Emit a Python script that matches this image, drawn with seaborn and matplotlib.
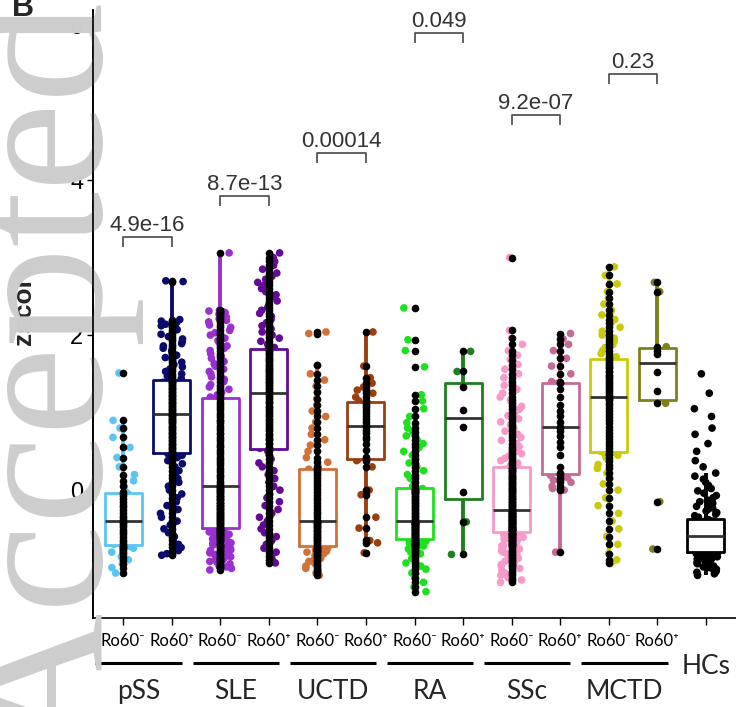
import numpy as np
import pandas as pd
import matplotlib
matplotlib.use("Agg")
import matplotlib.pyplot as plt
import seaborn as sns
from matplotlib.lines import Line2D

# ---------------- data ----------------
groups = ["pSS Ro60-", "pSS Ro60+", "SLE Ro60-", "SLE Ro60+", "UCTD Ro60-", "UCTD Ro60+",
          "RA Ro60-", "RA Ro60+", "SSc Ro60-", "SSc Ro60+", "MCTD Ro60-", "MCTD Ro60+", "HCs"]
tick_labels = ["Ro60\u207b", "Ro60\u207a"] * 6 + [""]
disease_names = ["pSS", "SLE", "UCTD", "RA", "SSc", "MCTD"]
p_values = ["4.9e-16", "8.7e-13", "0.00014", "0.049", "9.2e-07", "0.23"]
bracket_heights = [3.26, 3.79, 4.35, 5.90, 4.84, 5.37]
colors = ["#5BC5F2", "#0B0B6B", "#9B30D0", "#650A96", "#D2703A", "#9A3F10",
          "#1EE01E", "#1F7F1F", "#F79AC9", "#C46C97", "#CACA0A", "#80801A", "#000000"]

pss_neg = [-1.07, -1.0, -0.95, -0.9, -0.86, -0.82, -0.8, -0.77, -0.75, -0.73, -0.72,
           -0.7, -0.67, -0.64, -0.6, -0.57, -0.54, -0.51, -0.48, -0.45, -0.43, -0.41,
           -0.39, -0.36, -0.33, -0.3, -0.26, -0.22, -0.19, -0.15, -0.11, -0.08, -0.05,
           -0.02, 0.05, 0.12, 0.2, 0.3, 0.42, 0.55, 0.68, 0.8, 0.9, 1.51]
pss_pos = [-0.84, -0.82, -0.78, -0.74, -0.7, -0.65, -0.6, -0.55, -0.5, -0.45,
           -0.4, -0.35, -0.3, -0.25, -0.2, -0.15, -0.1, -0.05, 0.0, 0.05,
           0.1, 0.15, 0.2, 0.25, 0.3, 0.34, 0.38, 0.42, 0.45, 0.47,
           0.49, 0.51, 0.53, 0.54, 0.56, 0.58, 0.6, 0.61, 0.63, 0.65,
           0.67, 0.68, 0.7, 0.72, 0.74, 0.75, 0.77, 0.79, 0.81, 0.82,
           0.84, 0.86, 0.88, 0.89, 0.91, 0.92, 0.93, 0.95, 0.96, 0.97,
           0.99, 1.0, 1.02, 1.03, 1.05, 1.06, 1.08, 1.09, 1.11, 1.12,
           1.14, 1.15, 1.17, 1.18, 1.2, 1.21, 1.23, 1.24, 1.26, 1.27,
           1.29, 1.3, 1.32, 1.33, 1.35, 1.36, 1.38, 1.39, 1.4, 1.41,
           1.44, 1.47, 1.5, 1.53, 1.56, 1.59, 1.62, 1.65, 1.68, 1.71,
           1.74, 1.77, 1.8, 1.83, 1.86, 1.89, 1.92, 1.95, 1.98, 2.01,
           2.04, 2.07, 2.1, 2.12, 2.14, 2.16, 2.18, 2.2, 2.69, 2.70]
sle_neg = [-1.03, -1.01, -0.99, -0.98, -0.96, -0.95, -0.93, -0.92, -0.9, -0.89,
           -0.87, -0.86, -0.84, -0.83, -0.81, -0.8, -0.78, -0.77, -0.75, -0.74,
           -0.72, -0.71, -0.69, -0.68, -0.66, -0.65, -0.63, -0.62, -0.6, -0.59,
           -0.58, -0.57, -0.56, -0.55, -0.54, -0.53, -0.52, -0.51, -0.5, -0.5,
           -0.48, -0.47, -0.45, -0.44, -0.43, -0.41, -0.4, -0.39, -0.37, -0.36,
           -0.35, -0.33, -0.32, -0.31, -0.29, -0.28, -0.27, -0.25, -0.24, -0.23,
           -0.21, -0.2, -0.19, -0.17, -0.16, -0.15, -0.13, -0.12, -0.11, -0.09,
           -0.08, -0.07, -0.05, -0.04, -0.03, -0.01, 0.0, 0.01, 0.03, 0.04,
           0.06, 0.09, 0.12, 0.15, 0.18, 0.2, 0.23, 0.26, 0.29, 0.32,
           0.35, 0.38, 0.4, 0.43, 0.46, 0.49, 0.52, 0.55, 0.57, 0.6,
           0.63, 0.66, 0.69, 0.72, 0.74, 0.77, 0.8, 0.83, 0.86, 0.89,
           0.91, 0.94, 0.97, 1.0, 1.03, 1.06, 1.08, 1.11, 1.14, 1.18,
           1.2, 1.23, 1.26, 1.3, 1.33, 1.36, 1.4, 1.43, 1.46, 1.5,
           1.53, 1.56, 1.6, 1.63, 1.66, 1.7, 1.73, 1.76, 1.8, 1.83,
           1.86, 1.9, 1.93, 1.96, 2.0, 2.03, 2.06, 2.1, 2.13, 2.17,
           2.19, 2.21, 2.23, 2.25, 2.27, 2.29, 2.3, 2.31, 2.32, 3.06]
sle_pos = [-0.94, -0.9, -0.85, -0.8, -0.75, -0.7, -0.65, -0.6, -0.55, -0.5,
           -0.45, -0.4, -0.35, -0.3, -0.25, -0.2, -0.15, -0.1, -0.05, 0.0,
           0.05, 0.1, 0.15, 0.2, 0.25, 0.3, 0.35, 0.4, 0.45, 0.5,
           0.54, 0.56, 0.59, 0.61, 0.64, 0.66, 0.68, 0.71, 0.73, 0.76,
           0.78, 0.8, 0.83, 0.85, 0.88, 0.9, 0.92, 0.95, 0.97, 1.0,
           1.02, 1.04, 1.07, 1.09, 1.12, 1.14, 1.16, 1.19, 1.21, 1.24,
           1.26, 1.28, 1.3, 1.32, 1.34, 1.36, 1.38, 1.39, 1.41, 1.43,
           1.45, 1.47, 1.49, 1.51, 1.53, 1.54, 1.56, 1.58, 1.6, 1.62,
           1.64, 1.66, 1.68, 1.69, 1.71, 1.73, 1.75, 1.77, 1.79, 1.81,
           1.84, 1.88, 1.92, 1.96, 2.0, 2.04, 2.08, 2.12, 2.16, 2.2,
           2.24, 2.28, 2.32, 2.36, 2.4, 2.44, 2.48, 2.52, 2.56, 2.6,
           2.64, 2.68, 2.72, 2.76, 2.8, 2.85, 2.9, 2.95, 3.0, 3.06]
uctd_neg = [-1.1, -1.07, -1.04, -1.01, -0.98, -0.96, -0.94, -0.92, -0.9, -0.88,
            -0.86, -0.84, -0.82, -0.8, -0.79, -0.78, -0.77, -0.76, -0.75, -0.74,
            -0.72, -0.7, -0.68, -0.66, -0.65, -0.63, -0.61, -0.6, -0.58, -0.56,
            -0.54, -0.53, -0.51, -0.49, -0.48, -0.46, -0.45, -0.43, -0.42, -0.41,
            -0.39, -0.35, -0.31, -0.28, -0.24, -0.2, -0.17, -0.13, -0.1, -0.06,
            -0.03, 0.01, 0.05, 0.08, 0.12, 0.15, 0.19, 0.22, 0.25, 0.27,
            0.3, 0.36, 0.42, 0.5, 0.58, 0.65, 0.72, 0.8, 0.88, 0.95,
            1.02, 1.1, 1.18, 1.26, 1.34, 1.42, 1.5, 1.61, 2.02, 2.04]
uctd_pos = [-0.81, -0.68, -0.65, -0.49, -0.35, -0.06, 0.0, 0.3, 0.38,
            0.4, 0.43, 0.52, 0.6, 0.66, 0.69, 0.74, 0.77, 0.82,
            0.84, 0.88, 0.92, 0.96, 1.0, 1.03, 1.07, 1.1, 1.13,
            1.15, 1.2, 1.25, 1.29, 1.33, 1.38, 1.45, 1.6, 2.04]
ra_neg = [-1.31, -1.25, -1.19, -1.13, -1.07, -1.02, -0.98, -0.94, -0.91, -0.88,
          -0.85, -0.82, -0.8, -0.78, -0.76, -0.74, -0.72, -0.71, -0.7, -0.69,
          -0.68, -0.67, -0.66, -0.65, -0.64,
          -0.62, -0.61, -0.6, -0.59, -0.58, -0.57, -0.56, -0.55, -0.54, -0.53,
          -0.52, -0.51, -0.5, -0.49, -0.48, -0.47, -0.46, -0.45, -0.44, -0.44,
          -0.43, -0.42, -0.42, -0.41, -0.41,
          -0.39, -0.37, -0.35, -0.33, -0.31, -0.29, -0.27, -0.25, -0.23, -0.21,
          -0.19, -0.17, -0.15, -0.13, -0.11, -0.09, -0.07, -0.05, -0.04, -0.03,
          -0.02, -0.01, 0.0, 0.01, 0.02,
          0.05, 0.1, 0.15, 0.2, 0.25, 0.3, 0.35, 0.4, 0.45, 0.5,
          0.55, 0.6, 0.65, 0.7, 0.75, 0.8, 0.87, 0.95, 1.05, 1.15,
          1.23, 1.59, 1.8, 1.94, 2.35]
ra_pos = [-0.83, -0.41, -0.02, 0.82, 1.03, 1.33, 1.53, 1.79]
ssc_neg = [-1.19, -1.16, -1.13, -1.1, -1.07, -1.04, -1.01, -0.98, -0.96, -0.94,
           -0.92, -0.9, -0.88, -0.86, -0.84, -0.82, -0.8, -0.78, -0.76, -0.74,
           -0.72, -0.71, -0.7, -0.69, -0.68, -0.67, -0.66, -0.65, -0.64, -0.63,
           -0.62, -0.61, -0.6, -0.59, -0.58, -0.57, -0.56, -0.56, -0.55, -0.55,
           -0.53, -0.52, -0.52, -0.51, -0.51, -0.5, -0.49, -0.49, -0.48, -0.47,
           -0.47, -0.46, -0.45, -0.45, -0.44, -0.43, -0.43, -0.42, -0.41, -0.41,
           -0.4, -0.39, -0.39, -0.38, -0.37, -0.37, -0.36, -0.35, -0.35, -0.34,
           -0.33, -0.33, -0.32, -0.31, -0.31, -0.3, -0.29, -0.29, -0.28, -0.27,
           -0.25, -0.24, -0.22, -0.21, -0.19, -0.18, -0.17, -0.15, -0.14, -0.12,
           -0.11, -0.1, -0.08, -0.07, -0.05, -0.04, -0.03, -0.01, 0.0, 0.02,
           0.03, 0.04, 0.06, 0.07, 0.09, 0.1, 0.11, 0.13, 0.14, 0.16,
           0.17, 0.18, 0.2, 0.21, 0.23, 0.24, 0.25, 0.27, 0.28, 0.29,
           0.32, 0.35, 0.38, 0.41, 0.44, 0.47, 0.5, 0.53, 0.56, 0.6,
           0.64, 0.68, 0.72, 0.76, 0.8, 0.84, 0.88, 0.92, 0.96, 1.0,
           1.04, 1.08, 1.12, 1.16, 1.2, 1.25, 1.3, 1.35, 1.4, 1.45,
           1.5, 1.56, 1.62, 1.68, 1.74, 1.8, 1.88, 1.96, 2.06, 3.0]
ssc_pos = [-0.8, 0.0, 0.02, 0.05, 0.1, 0.13, 0.16, 0.19,
           0.22, 0.3, 0.45, 0.55, 0.62, 0.7, 0.76, 0.8,
           0.82, 0.88, 0.95, 1.02, 1.1, 1.2, 1.3, 1.38,
           1.4, 1.5, 1.6, 1.7, 1.8, 1.88, 1.95, 2.02]
mctd_neg = [-0.94, -0.9, -0.82, -0.7, -0.6, -0.5, -0.4, -0.3, -0.2, -0.1,
            0.0, 0.08, 0.15, 0.22, 0.28, 0.33, 0.38, 0.42, 0.45, 0.47,
            0.5, 0.54, 0.58, 0.62, 0.66, 0.7, 0.74, 0.78, 0.82, 0.86,
            0.9, 0.94, 0.98, 1.02, 1.06, 1.1, 1.13, 1.16, 1.18, 1.19,
            1.21, 1.24, 1.27, 1.29, 1.32, 1.34, 1.37, 1.39, 1.42, 1.44,
            1.47, 1.49, 1.52, 1.54, 1.57, 1.59, 1.62, 1.64, 1.67, 1.69,
            1.72, 1.76, 1.8, 1.84, 1.88, 1.92, 1.96, 2.0, 2.05, 2.1,
            2.15, 2.2, 2.26, 2.32, 2.4, 2.48, 2.56, 2.66, 2.77, 2.88]
mctd_pos = [-0.76, -0.15, 1.12, 1.28, 1.52, 1.76, 1.8, 1.85, 2.56, 2.68]
hcs = [-1.1, -1.08, -1.06, -1.05, -1.04, -1.02, -1.01, -1.0, -0.99, -0.98,
       -0.97, -0.96, -0.95, -0.94, -0.93, -0.92, -0.91, -0.9, -0.89, -0.88,
       -0.87, -0.86, -0.85, -0.85, -0.84, -0.84, -0.83, -0.83, -0.82, -0.82,
       -0.81, -0.81,
       -0.79, -0.78, -0.78, -0.77, -0.76, -0.76, -0.75, -0.74, -0.74, -0.73,
       -0.72, -0.72, -0.71, -0.7, -0.7, -0.69, -0.68, -0.68, -0.67, -0.66,
       -0.66, -0.65, -0.64, -0.64, -0.63, -0.63, -0.62, -0.62, -0.61, -0.61,
       -0.6, -0.6,
       -0.59, -0.58, -0.58, -0.57, -0.56, -0.56, -0.55, -0.54, -0.54, -0.53,
       -0.52, -0.52, -0.51, -0.5, -0.5, -0.49, -0.48, -0.48, -0.47, -0.46,
       -0.46, -0.45, -0.44, -0.44, -0.43, -0.42, -0.42, -0.41, -0.4, -0.4,
       -0.39, -0.38,
       -0.35, -0.33, -0.31, -0.29, -0.27, -0.25, -0.23, -0.21, -0.19, -0.17,
       -0.15, -0.13, -0.1, -0.07, -0.04, -0.01, 0.02, 0.06, 0.1, 0.14,
       0.18, 0.22, 0.3, 0.38, 0.5, 0.6, 0.72, 0.8, 0.95, 1.05,
       1.25, 1.5]

values = [pss_neg, pss_pos, sle_neg, sle_pos, uctd_neg, uctd_pos,
          ra_neg, ra_pos, ssc_neg, ssc_pos, mctd_neg, mctd_pos, hcs]

df = pd.DataFrame({
    "group": np.repeat(groups, [len(v) for v in values]),
    "value": np.concatenate([np.asarray(v, float) for v in values]),
})
df_center = df[df["group"] != "HCs"]
palette = dict(zip(groups, colors))

# ---------------- figure ----------------
sns.set_style("ticks")
plt.rcParams["font.family"] = ["Liberation Sans", "DejaVu Sans"]
LATO = ["Lato", "DejaVu Sans"]

fig = plt.figure(figsize=(7.36, 7.07), dpi=100)
fig.patch.set_facecolor("white")
ax = fig.add_axes([93 / 736, 1 - 618 / 707, 643 / 736, 608.5 / 707])

np.random.seed(11)
sns.stripplot(data=df, x="group", y="value", hue="group", order=groups, hue_order=groups,
              palette=palette, jitter=0.24, size=5.5, linewidth=0, legend=False,
              zorder=1, ax=ax)
# white box bodies (hide coloured jitter inside boxes)
sns.boxplot(data=df, x="group", y="value", order=groups, color="white", fill=True,
            linecolor="white", linewidth=0, width=0.76, showfliers=False, showcaps=False,
            whiskerprops={"linewidth": 0}, ax=ax)
# coloured outlines, whiskers and grey medians
sns.boxplot(data=df, x="group", y="value", hue="group", order=groups, hue_order=groups,
            palette=palette, fill=False, width=0.76, showfliers=False, showcaps=False,
            linewidth=2.0, whiskerprops={"linewidth": 2.8},
            medianprops={"color": "#333333", "linewidth": 2.0}, legend=False, ax=ax)
sns.stripplot(data=df_center, x="group", y="value", order=groups, color="black",
              jitter=False, size=5.5, linewidth=0, zorder=3, ax=ax)

# brackets with p-values
for i, (p, h) in enumerate(zip(p_values, bracket_heights)):
    x1, x2 = 2 * i, 2 * i + 1
    ax.plot([x1, x1, x2, x2], [h - 0.13, h, h, h - 0.13], color="#555555", lw=1.3,
            solid_capstyle="butt", zorder=4)
    ax.text((x1 + x2) / 2, h + 0.08, p, ha="center", va="baseline", fontsize=16,
            color="#333333")

# axes styling
sns.despine(ax=ax)
for s in ["left", "bottom"]:
    ax.spines[s].set_linewidth(1.2)
    ax.spines[s].set_color("black")
ax.set_xlim(-0.62, 12.62)
ax.set_ylim(-1.65, 6.2)
ax.set_yticks([0, 2, 4, 6])
ax.set_yticklabels(["0", "2", "4", "6"])
ax.set_xticks(range(len(groups)))
ax.set_xticklabels(tick_labels)
for lab in ax.get_xticklabels():
    lab.set_fontfamily(LATO)
ax.tick_params(axis="x", length=5, width=1, pad=6, labelsize=12, colors="black")
ax.tick_params(axis="y", length=4, width=1, pad=3, labelsize=17, colors="black")
ax.set_xlabel("")
ax.set_ylabel("zscore", fontsize=19, fontweight="bold")
ax.yaxis.set_label_coords(-0.089, 0.518)

# disease group underlines and names
trans = ax.get_xaxis_transform()
for i, name in enumerate(disease_names):
    ax.plot([2 * i - 0.57, 2 * i + 1.21], [-0.074, -0.074], transform=trans,
            color="black", lw=2.2, clip_on=False, solid_capstyle="butt")
    ax.text(2 * i + 0.32, -0.133, name, transform=trans, ha="center", va="baseline",
            fontsize=19, family=LATO)
ax.text(12, -0.092, "HCs", transform=trans, ha="center", va="baseline",
        fontsize=19, family=LATO)

# panel letter, "Accepted" watermark, and the y axis line drawn over it
fig.text(23 / 736, 1 - 8 / 707, "B", fontsize=22, fontweight="bold", ha="center",
         va="center", zorder=2)
fig.text(100 / 736, 1 - 755 / 707, "Accepted", rotation=90, rotation_mode="anchor",
         ha="left", va="baseline", fontsize=144, family="Liberation Serif",
         color="#cdcdcd", zorder=5)
fig.add_artist(Line2D([0, 0], [0, 1], transform=ax.transAxes, color="black",
                      lw=1.2, zorder=6))

fig.savefig("out.png", dpi=100, facecolor="white")
